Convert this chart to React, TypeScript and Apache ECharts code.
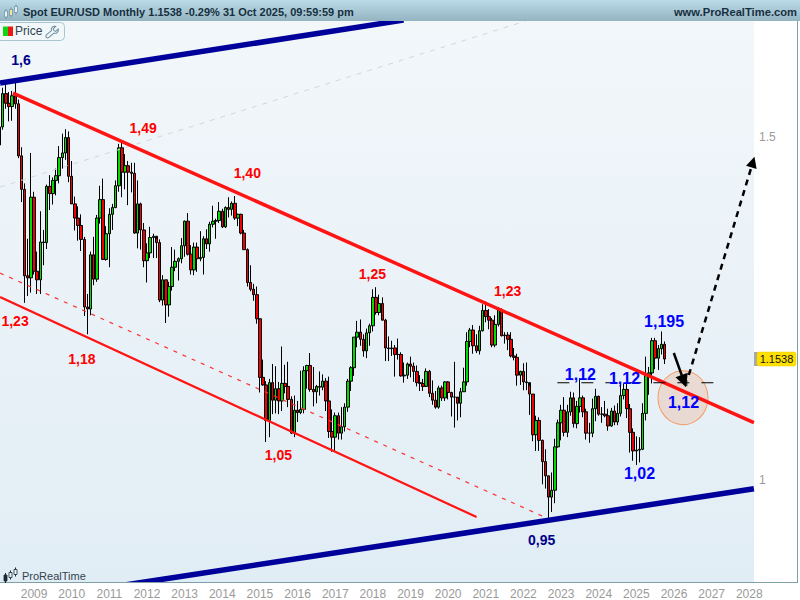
import React, { useEffect, useRef } from "react";
import * as echarts from "echarts";

// Monthly EUR/USD, Feb 2008 .. Oct 2025
const firstOpen = 1.486;
const closes = [
  1.518,1.579,1.561,1.555,1.575,1.56,1.467,1.41,1.273,1.27,1.397,
  1.28,1.267,1.325,1.324,1.415,1.403,1.425,1.433,1.464,1.472,1.499,1.432,
  1.386,1.363,1.351,1.329,1.227,1.224,1.305,1.268,1.363,1.393,1.298,1.338,
  1.369,1.38,1.416,1.481,1.439,1.45,1.439,1.437,1.339,1.386,1.344,1.296,
  1.308,1.332,1.334,1.324,1.237,1.267,1.23,1.257,1.286,1.295,1.299,1.319,
  1.358,1.306,1.282,1.317,1.299,1.301,1.33,1.322,1.353,1.358,1.359,1.374,
  1.349,1.38,1.377,1.387,1.363,1.369,1.339,1.313,1.263,1.253,1.245,1.21,
  1.129,1.119,1.073,1.122,1.099,1.114,1.098,1.121,1.117,1.1,1.057,1.086,
  1.083,1.087,1.138,1.145,1.113,1.11,1.117,1.116,1.124,1.098,1.059,1.052,
  1.079,1.057,1.065,1.09,1.124,1.142,1.184,1.191,1.181,1.165,1.19,1.2,
  1.241,1.219,1.232,1.208,1.169,1.168,1.169,1.16,1.16,1.131,1.132,1.147,
  1.144,1.137,1.122,1.121,1.117,1.137,1.108,1.099,1.09,1.115,1.102,1.123,
  1.109,1.103,1.103,1.095,1.11,1.123,1.178,1.194,1.172,1.165,1.193,1.222,
  1.213,1.208,1.173,1.202,1.223,1.186,1.187,1.181,1.158,1.156,1.132,1.137,
  1.123,1.122,1.107,1.055,1.073,1.048,1.022,1.005,0.98,0.988,1.04,1.07,
  1.086,1.058,1.084,1.102,1.069,1.091,1.102,1.084,1.057,1.057,1.088,1.104,
  1.081,1.081,1.079,1.066,1.085,1.071,1.082,1.105,1.113,1.088,1.058,1.035,
  1.036,1.037,1.082,1.133,1.135,1.179,1.155,1.168,1.174,1.1538,
];
const highs = [
  1.524,1.59,1.602,1.582,1.584,1.604,1.568,1.482,1.42,1.33,1.472,
  1.406,1.31,1.374,1.344,1.418,1.434,1.43,1.445,1.484,1.506,1.514,1.51,
  1.458,1.398,1.382,1.369,1.333,1.246,1.31,1.333,1.368,1.416,1.428,1.35,
  1.379,1.386,1.425,1.488,1.494,1.47,1.458,1.455,1.455,1.425,1.388,1.355,
  1.323,1.349,1.338,1.33,1.329,1.274,1.267,1.264,1.317,1.313,1.301,1.331,
  1.359,1.371,1.32,1.324,1.324,1.342,1.334,1.345,1.357,1.383,1.362,1.389,
  1.378,1.382,1.397,1.39,1.399,1.37,1.37,1.344,1.315,1.289,1.261,1.257,
  1.209,1.153,1.124,1.127,1.147,1.144,1.123,1.171,1.146,1.15,1.104,1.105,
  1.098,1.138,1.144,1.146,1.162,1.143,1.119,1.137,1.133,1.128,1.13,1.087,
  1.083,1.083,1.09,1.095,1.127,1.144,1.184,1.207,1.209,1.188,1.196,1.203,
  1.253,1.256,1.245,1.241,1.21,1.185,1.179,1.173,1.182,1.163,1.149,1.149,
  1.157,1.149,1.145,1.132,1.127,1.141,1.139,1.125,1.111,1.118,1.118,1.124,
  1.124,1.11,1.15,1.103,1.115,1.142,1.191,1.197,1.201,1.188,1.2,1.231,
  1.235,1.224,1.211,1.215,1.227,1.225,1.191,1.191,1.191,1.169,1.161,1.138,
  1.148,1.149,1.118,1.107,1.079,1.077,1.049,1.037,1.005,1.009,1.05,1.074,
  1.093,1.103,1.093,1.11,1.109,1.098,1.128,1.105,1.088,1.07,1.101,1.114,
  1.105,1.09,1.098,1.088,1.089,1.092,1.095,1.12,1.121,1.121,1.094,1.063,
  1.053,1.052,1.095,1.157,1.143,1.183,1.183,1.173,1.192,1.178,
];
const lows = [
  1.444,1.513,1.551,1.528,1.529,1.551,1.463,1.389,1.233,1.243,1.248,
  1.275,1.246,1.246,1.289,1.314,1.376,1.385,1.4,1.42,1.445,1.46,1.422,
  1.386,1.343,1.327,1.311,1.214,1.188,1.215,1.259,1.264,1.354,1.297,1.296,
  1.286,1.344,1.379,1.406,1.397,1.41,1.384,1.405,1.338,1.315,1.313,1.286,
  1.263,1.3,1.3,1.3,1.234,1.229,1.204,1.213,1.251,1.28,1.266,1.292,
  1.302,1.304,1.275,1.274,1.279,1.295,1.275,1.314,1.31,1.348,1.33,1.355,
  1.347,1.347,1.364,1.367,1.36,1.35,1.337,1.313,1.257,1.25,1.236,1.203,
  1.109,1.118,1.046,1.052,1.081,1.082,1.081,1.085,1.108,1.09,1.056,1.052,
  1.071,1.081,1.082,1.114,1.11,1.091,1.095,1.105,1.112,1.085,1.051,1.034,
  1.034,1.049,1.049,1.059,1.084,1.111,1.131,1.17,1.172,1.157,1.155,1.172,
  1.192,1.216,1.215,1.208,1.151,1.151,1.158,1.13,1.153,1.13,1.122,1.127,
  1.129,1.123,1.117,1.111,1.111,1.118,1.103,1.093,1.088,1.088,1.098,1.098,
  1.1,1.078,1.064,1.073,1.077,1.111,1.118,1.17,1.161,1.162,1.16,1.192,
  1.205,1.195,1.17,1.17,1.199,1.185,1.175,1.166,1.156,1.152,1.118,1.119,
  1.112,1.112,1.08,1.047,1.035,1.035,0.995,0.99,0.9535,0.963,0.973,1.039,
  1.048,1.053,1.052,1.079,1.064,1.063,1.083,1.077,1.049,1.045,1.052,1.072,
  1.079,1.07,1.077,1.06,1.065,1.067,1.067,1.078,1.1,1.076,1.033,1.023,
  1.018,1.021,1.036,1.073,1.106,1.121,1.14,1.139,1.16,1.147,
];

const yTicks = [1, 1.5];
const title = "Spot EUR/USD Monthly 1.1538 -0.29% 31 Oct 2025, 09:59:59 pm";
const site = "www.ProRealTime.com";
const lastPrice = "1.1538";

// [decimal year, price, text]
const redLabels = [
  [2011.899, 1.516, "1,49"],
  [2014.665, 1.4375, "1,40"],
  [2008.495, 1.2068, "1,23"],
  [2010.269, 1.1537, "1,18"],
  [2017.989, 1.2757, "1,25"],
  [2021.58, 1.2503, "1,23"],
  [2015.489, 1.03, "1,05"],
];
const navyLabels = [
  [2008.654, 1.643, "1,6"],
  [2022.484, 0.9315, "0,95"],
];
const blueLabels = [
  [2023.513, 1.1326, "1,12"],
  [2024.684, 1.1281, "1,12"],
  [2025.737, 1.2058, "1,195"],
  [2026.253, 1.0962, "1,12"],
  [2025.082, 1.0079, "1,02"],
];

// trend lines: [decimal year, price] pairs
const topBlue = [[2008.096, 1.599], [2018.814, 1.7223]];
const bottomBlue = [[2011.02, 0.8809], [2028.122, 0.9897]];
const topRed = [[2008.441, 1.58], [2028.122, 1.0703]];
const lowerRed = [[2008.096, 1.2415], [2020.755, 0.9572]];
const midRedDash = [[2008.096, 1.2772], [2022.59, 0.9566]];
const grayDash = [[2008.096, 1.4138], [2022.059, 1.7205]];
const level112 = [[2022.901, 1.1219], [2027.06, 1.1219]];
const crossMark = [[2026.34, 1.1255], [2026.34, 1.1175]];
const dashedArrow = [[2026.394, 1.1322], [2028.096, 1.4563]];
const solidArrow = [[2025.995, 1.162], [2026.261, 1.1241]];
const circleCentre = [[2026.24, 1.1022]];

echarts.graphic.registerShape(
  "wrench",
  echarts.graphic.extendPath(
    "M12 1 L9 4 L10 6 L12 7 L15 4 C16 7 13 10 10 9 L4 14 C2 16 -1 13 1 11 L7 6 C6 3 9 0 12 1 Z",
    {}
  )
);

const SANS = "Arial, 'Liberation Sans', sans-serif";
const BLEED = 10; // the first candle sits half outside the frame, so the canvas starts left of it

function lineSeries(data: number[][], color: string, width: number, type: any = "solid") {
  return {
    type: "line",
    xAxisIndex: 1,
    yAxisIndex: 0,
    data,
    symbol: "none",
    silent: true,
    z: 5,
    lineStyle: { color, width, type, cap: "butt" },
  };
}

function labelSeries(data: any[], color: string, size: number) {
  return {
    type: "scatter",
    xAxisIndex: 1,
    yAxisIndex: 0,
    data,
    symbolSize: 1,
    silent: true,
    z: 8,
    itemStyle: { color: "transparent", opacity: 1 },
    label: {
      show: true,
      position: "inside",
      formatter: (p: any) => p.value[2],
      color,
      fontSize: size,
      fontWeight: "bold",
      fontFamily: SANS,
    },
  };
}

function arrowSeries(pts: number[][], width: number, type: any, size: number) {
  return {
    type: "line",
    xAxisIndex: 1,
    yAxisIndex: 0,
    data: [],
    symbol: "none",
    silent: true,
    z: 7,
    markLine: {
      silent: true,
      animation: false,
      symbol: ["none", "triangle"],
      symbolSize: size,
      label: { show: false },
      lineStyle: { color: "#000", width, type, opacity: 1 },
      data: [[{ coord: pts[0] }, { coord: pts[1] }]],
    },
  };
}

function logoCandle(x: number, y: number, h: number, color: string, fill: string, z: number) {
  return [
    { type: "line", z, shape: { x1: x, y1: y - h / 2 - 2, x2: x, y2: y + h / 2 + 2 }, style: { stroke: color, lineWidth: 1 } },
    { type: "rect", z, shape: { x: x - 1.5, y: y - h / 2, width: 3, height: h }, style: { fill, stroke: color, lineWidth: 0.8 } },
  ];
}

export default function App() {
  const ref = useRef<HTMLDivElement>(null);
  useEffect(() => {
    const chart = echarts.init(ref.current!, undefined, { renderer: "svg" });

    const categories: string[] = [];
    for (let i = 0; i < 241; i++) {
      const m = i + 1;
      categories.push(`${2008 + Math.floor(m / 12)}-${String((m % 12) + 1).padStart(2, "0")}`);
    }
    const candles = closes.map((c, i) => [i === 0 ? firstOpen : closes[i - 1], c, lows[i], highs[i]]);

    chart.setOption({
      animation: false,
      grid: { left: BLEED - 2, right: 46, top: 21, bottom: 17 },
      xAxis: [
        {
          type: "category",
          z: 60,
          data: categories,
          axisLine: { show: false },
          axisTick: { show: false },
          splitLine: { show: false },
          axisLabel: {
            interval: (_i: number, v: string) => v.endsWith("-01"),
            formatter: (v: string) => v.slice(0, 4),
            color: "#9a9a9a",
            fontSize: 12,
            fontFamily: SANS,
            margin: 5,
            hideOverlap: false,
          },
        },
        { type: "value", show: false, min: 2008.0417, max: 2028.125, splitLine: { show: false } },
      ],
      yAxis: {
        type: "log",
        z: 60,
        logBase: 10,
        min: 0.8854,
        max: 1.7205,
        position: "right",
        axisLine: { show: false },
        axisTick: { show: false },
        splitLine: { show: false },
        minorTick: { show: false },
        axisLabel: {
          customValues: yTicks,
          formatter: (v: number) => String(+(+v).toFixed(3)),
          color: "#9a9a9a",
          fontSize: 12,
          fontFamily: SANS,
          margin: 5,
        },
      },
      graphic: [
        {
          type: "group",
          x: BLEED,
          children: [
            {
              type: "rect", z: -10, silent: true,
              shape: { x: 0, y: 21, width: 754, height: 561 },
              style: { fill: new echarts.graphic.LinearGradient(0, 0, 0, 1, [
                { offset: 0, color: "#f2f7fa" }, { offset: 1, color: "#e1edf5" },
              ]) },
            },
            {
              type: "rect", z: 40, silent: true,
              shape: { x: -BLEED, y: 582.5, width: 810, height: 18 },
              style: { fill: "#fff" },
            },
            {
              type: "rect", z: 100, silent: true,
              shape: { x: 0, y: 0, width: 800, height: 21 },
              style: { fill: new echarts.graphic.LinearGradient(0, 0, 0, 1, [
                { offset: 0, color: "#bcdbe9" }, { offset: 1, color: "#94b4c2" },
              ]) },
            },
            { type: "text", z: 101, x: 23, y: 6, style: { text: title, fill: "#16303e", font: `bold 11px ${SANS}` } },
            { type: "text", z: 101, x: 797, y: 6, style: { text: site, fill: "#16303e", font: `bold 11.2px ${SANS}`, textAlign: "right" } },
            ...logoCandle(6, 14, 6, "#6f94ab", "#e8f3f8", 101),
            ...logoCandle(11, 12.5, 6, "#6f94ab", "#f0e6a0", 101),
            ...logoCandle(16, 9.5, 6, "#6f94ab", "#e8f3f8", 101),
            { type: "line", z: 50, silent: true, shape: { x1: 797.5, y1: 21, x2: 797.5, y2: 582.5 }, style: { stroke: "#7f9fa9", lineWidth: 1 } },
            { type: "line", z: 50, silent: true, shape: { x1: 0, y1: 582.5, x2: 798, y2: 582.5 }, style: { stroke: "#7f9fa9", lineWidth: 1 } },
            { type: "rect", z: 60, shape: { x: -3, y: 22.5, width: 67.5, height: 18, r: 4 }, style: { fill: "#f2f7fa", stroke: "#a9c5d2", lineWidth: 1 } },
            { type: "rect", z: 61, shape: { x: 3, y: 26.5, width: 5, height: 9.5 }, style: { fill: "#0fd60f" } },
            { type: "rect", z: 61, shape: { x: 8, y: 26.5, width: 5, height: 9.5 }, style: { fill: "#f01414" } },
            { type: "text", z: 61, x: 15, y: 25, style: { text: "Price", fill: "#33434d", font: `12px ${SANS}` } },
            { type: "wrench", z: 61, x: 45.5, y: 25.5, scaleX: 0.85, scaleY: 0.85, style: { fill: "none", stroke: "#6e8fa0", lineWidth: 1.2 } },
            { type: "rect", z: 60, shape: { x: 754, y: 352, width: 4, height: 14 }, style: { fill: "#a8a8a8" } },
            { type: "rect", z: 61, shape: { x: 757, y: 352, width: 39, height: 14, r: 2 }, style: { fill: "#ffe000", stroke: "#ead000", lineWidth: 0.5 } },
            { type: "text", z: 62, x: 776.5, y: 359, style: { text: lastPrice, fill: "#111", font: `11px ${SANS}`, textAlign: "center", textVerticalAlign: "middle" } },
            ...logoCandle(5.5, 578, 6, "#1a2a33", "#1a2a33", 60),
            ...logoCandle(10.5, 575, 5, "#1a2a33", "#f2f7fa", 60),
            ...logoCandle(15.5, 572, 5, "#1a2a33", "#f2f7fa", 60),
            { type: "text", z: 60, x: 22, y: 570, style: { text: "ProRealTime", fill: "#33434d", font: `11px ${SANS}` } },
          ],
        },
      ],
      series: [
        {
          type: "candlestick",
          xAxisIndex: 0,
          yAxisIndex: 0,
          data: candles,
          barWidth: 3,
          silent: true,
          z: 3,
          itemStyle: { color: "#00dc00", color0: "#f00000", borderColor: "#000", borderColor0: "#000", borderWidth: 1 },
        },
        lineSeries(grayDash, "#d2d6d8", 1, [5, 6]),
        {
          type: "scatter", xAxisIndex: 1, yAxisIndex: 0, data: circleCentre, silent: true, z: 4,
          symbol: "circle", symbolSize: [50, 54],
          itemStyle: { color: "rgba(240,170,130,0.3)", borderColor: "#f59a60", borderWidth: 1, opacity: 1 },
        },
        lineSeries(topBlue, "#00009a", 5.5),
        lineSeries(bottomBlue, "#00009a", 5.5),
        lineSeries(topRed, "#ff1414", 3.5),
        lineSeries(lowerRed, "#ff1414", 2.2),
        lineSeries(midRedDash, "#ff3030", 1.2, [4, 6]),
        lineSeries(level112, "#000", 1.2, [12, 12]),
        lineSeries(crossMark, "#000", 1),
        arrowSeries(dashedArrow, 2.5, [6, 5], 11),
        arrowSeries(solidArrow, 2.5, "solid", 13),
        labelSeries(redLabels, "#ff0000", 14),
        labelSeries(navyLabels, "#00008c", 14),
        labelSeries(blueLabels, "#0000ff", 16),
      ],
    });
    return () => chart.dispose();
  }, []);
  return (
    <div style={{ position: "absolute", left: 0, top: 0, width: 800, height: 600, overflow: "hidden", background: "#fff" }}>
      <div ref={ref} style={{ position: "absolute", left: -BLEED, top: 0, width: 800 + BLEED, height: 600 }} />
    </div>
  );
}
